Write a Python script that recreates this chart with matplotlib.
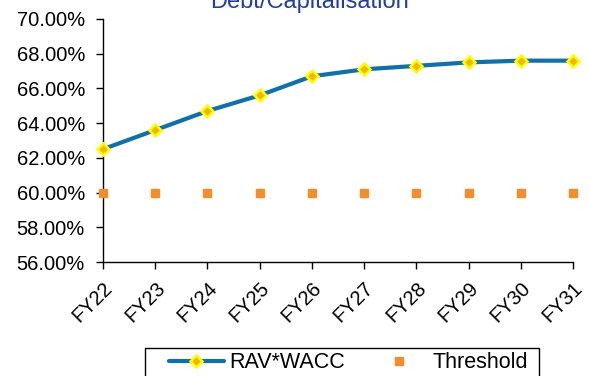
import matplotlib
matplotlib.use("Agg")
import matplotlib.pyplot as plt
from matplotlib.patches import Rectangle
from matplotlib.ticker import FuncFormatter

plt.rcParams['font.family'] = ['Liberation Sans', 'DejaVu Sans']

years = ["FY22", "FY23", "FY24", "FY25", "FY26", "FY27", "FY28", "FY29", "FY30", "FY31"]
rav_wacc = [62.5, 63.6, 64.7, 65.6, 66.7, 67.1, 67.3, 67.5, 67.6, 67.6]
threshold = [60.0] * len(years)

W, H = 589, 376
fig = plt.figure(figsize=(W / 100, H / 100), dpi=100)
ax = fig.add_axes([103 / W, 1 - 262 / H, 470 / W, (262 - 19) / H])

x = list(range(len(years)))
ax.plot(x, rav_wacc, color='#1170AA', lw=3.0, marker='D', markersize=6,
        markerfacecolor='#F2B600', markeredgecolor='#FFFF00', markeredgewidth=1.8,
        label='RAV*WACC', solid_capstyle='round', zorder=3, clip_on=False)
ax.plot(x, threshold, ls='none', marker='s', markersize=6, color='#F28E2B',
        markeredgecolor='#F28E2B', label='Threshold', zorder=3, clip_on=False)

ax.set_xlim(0, len(years) - 1)
ax.set_ylim(56, 70)
ax.set_yticks([56, 58, 60, 62, 64, 66, 68, 70])
ax.yaxis.set_major_formatter(FuncFormatter(lambda v, p: f"{v:.2f}%"))
ax.set_xticks(x)
ax.set_xticklabels(years, rotation=45, ha='right', va='top', rotation_mode='anchor')

for s in ['top', 'right']:
    ax.spines[s].set_visible(False)
for s in ['left', 'bottom']:
    ax.spines[s].set_color('black')
    ax.spines[s].set_linewidth(1.0)
ax.tick_params(axis='both', direction='out', length=5, width=1.0, colors='black',
               labelsize=14.5)
ax.tick_params(axis='y', pad=8)
ax.tick_params(axis='x', pad=7)

fig.text(309 / W, 1 - 8 / H, "Debt/Capitalisation", color='#1F3F9F',
         fontsize=17, ha='center', va='baseline')

handles, labels = ax.get_legend_handles_labels()
leg = fig.legend(handles, labels, loc='center left', ncol=2,
                 bbox_to_anchor=(169 / W, 1 - 363 / H), frameon=False,
                 fontsize=15.5, handlelength=2.55, columnspacing=1.25,
                 handletextpad=0.25, borderpad=0.0, borderaxespad=0.0)
fig.add_artist(Rectangle((145 / W, -0.05), (539 - 145) / W, (1 - 348 / H) + 0.05,
                         transform=fig.transFigure, fill=False,
                         edgecolor='black', linewidth=1.0))

fig.savefig("out.png", dpi=100)
